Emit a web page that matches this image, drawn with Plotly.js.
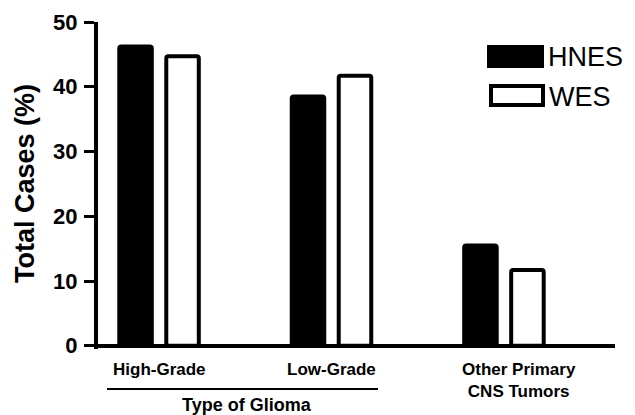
<!DOCTYPE html>
<html>
<head>
<meta charset="utf-8">
<script src="https://cdn.plot.ly/plotly-3.0.1.min.js"></script>
<style>html,body{margin:0;padding:0;background:#fff;}#chart{width:635px;height:415px;}</style>
</head>
<body>
<div id="chart"></div>
<script>
// ---- data ----
var categories = ["High-Grade", "Low-Grade", "Other Primary<br>CNS Tumors"];
var hnesValues = [46.2, 38.5, 15.5];
var wesValues = [44.7, 41.7, 11.7];
var seriesNames = ["HNES", "WES"];
var yTickValues = [0, 10, 20, 30, 40, 50];
var groupLabel = "Type of Glioma";
var yTitle = "Total Cases (%)";

// ---- layout helpers ----
var W = 635, H = 415;
var M = {l: 98, r: 20, t: 22, b: 66};
var PW = W - M.l - M.r, PH = H - M.t - M.b;
function px(x) { return (x - M.l) / PW; }
function py(y) { return (H - M.b - y) / PH; }
var FONT = "Liberation Sans, Arial, Helvetica, sans-serif";
var LW = 4;

var traces = [
  {type: "bar", name: seriesNames[0], x: categories, y: hnesValues,
   marker: {color: "#000", line: {color: "#000", width: LW}, cornerradius: 2},
   showlegend: false, hoverinfo: "x+y"},
  {type: "bar", name: seriesNames[1], x: categories, y: wesValues,
   marker: {color: "#fff", line: {color: "#000", width: LW}, cornerradius: 2},
   showlegend: false, hoverinfo: "x+y"}
];

var annotations = [];
var labelShift = [0, 0, 15];
var labelY = [369, 369, 380];
categories.forEach(function (c, i) {
  annotations.push({text: "<b>" + c + "</b>", x: c, xref: "x", y: py(labelY[i]), yref: "paper",
    xshift: labelShift[i], showarrow: false, xanchor: "center", yanchor: "middle",
    font: {family: FONT, size: 17, color: "#000"}});
});
annotations.push({text: "<b>" + groupLabel + "</b>", x: px(247), xref: "paper", y: py(405), yref: "paper",
  showarrow: false, xanchor: "center", yanchor: "middle", font: {family: FONT, size: 18, color: "#000"}});
annotations.push({text: "<b>" + yTitle + "</b>", x: px(25), xref: "paper", y: py(184), yref: "paper",
  showarrow: false, textangle: -90, xanchor: "center", yanchor: "middle", font: {family: FONT, size: 27, color: "#000"}});
// legend texts
annotations.push({text: seriesNames[0], x: px(546), xref: "paper", y: py(57), yref: "paper",
  showarrow: false, xanchor: "left", yanchor: "middle", font: {family: FONT, size: 27, color: "#000"}});
annotations.push({text: seriesNames[1], x: px(547), xref: "paper", y: py(97), yref: "paper",
  showarrow: false, xanchor: "left", yanchor: "middle", font: {family: FONT, size: 27, color: "#000"}});

var shapes = [
  // bracket under glioma categories
  {type: "line", xref: "paper", yref: "paper", x0: px(107), x1: px(378), y0: py(389), y1: py(389),
   line: {color: "#000", width: 2}},
  // legend swatches
  {type: "rect", xref: "paper", yref: "paper", x0: px(489), x1: px(542), y0: py(47), y1: py(66),
   fillcolor: "#000", line: {color: "#000", width: LW}},
  {type: "rect", xref: "paper", yref: "paper", x0: px(491), x1: px(543), y0: py(86), y1: py(105),
   fillcolor: "#fff", line: {color: "#000", width: LW}}
];

var layout = {
  width: W, height: H,
  margin: M,
  paper_bgcolor: "#fff", plot_bgcolor: "#fff",
  barmode: "group", bargap: 0.455, bargroupgap: 0.308,
  font: {family: FONT, color: "#000"},
  xaxis: {type: "category", range: [-0.354, 2.644], showline: false,
    ticks: "", showticklabels: false, showgrid: false, zeroline: false, fixedrange: true},
  yaxis: {range: [-0.5, 50], tickvals: yTickValues, ticks: "outside", ticklen: 10, tickwidth: 3, tickcolor: "#000",
    showline: true, linecolor: "#000", linewidth: LW, showgrid: false,
    zeroline: true, zerolinecolor: "#000", zerolinewidth: LW,
    tickfont: {family: FONT, size: 22, color: "#000", weight: "bold"}, ticklabelstandoff: 2, fixedrange: true},
  annotations: annotations,
  shapes: shapes,
  showlegend: false
};

Plotly.newPlot("chart", traces, layout, {displayModeBar: false, staticPlot: true});
</script>
</body>
</html>
